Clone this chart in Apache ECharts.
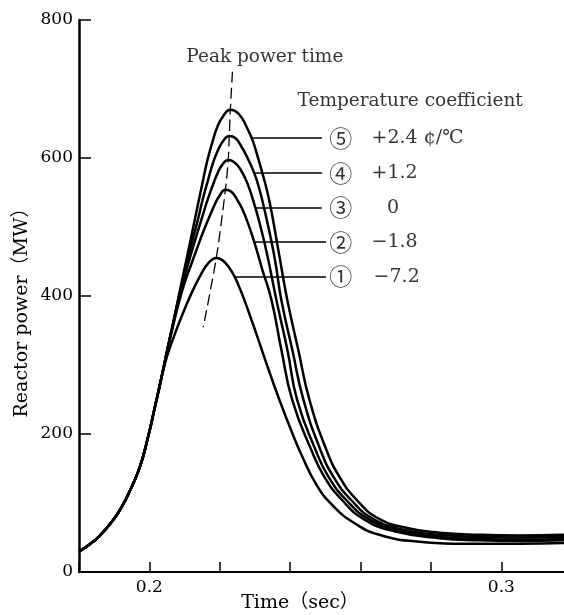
<!DOCTYPE html>
<html>
<head>
<meta charset="utf-8">
<script src="https://cdn.jsdelivr.net/npm/echarts@6/dist/echarts.min.js"></script>
<style>
html,body{margin:0;padding:0;background:#fff;}
#chart{width:564px;height:615px;}
</style>
</head>
<body>
<div id="chart"></div>
<script>
// ---- data (time in sec, power in MW) ----
const rise = [[0.1800,30],[0.1830,40],[0.1858,52],[0.1895,74],[0.1921,94],[0.1943,116],[0.1972,151],[0.1994,191],[0.2017,242],[0.2037,288]];
const curve1 = [[0.2051,314],[0.2068,339],[0.2085,362],[0.2105,387],[0.2125,410],[0.2142,427],[0.2159,442],[0.2176,452],[0.2190,455],[0.2207,452],[0.2224,443],[0.2242,428],[0.2256,412],[0.2270,394],[0.2304,345],[0.2332,303],[0.2369,250],[0.2403,205],[0.2432,170],[0.2474,127],[0.2520,97],[0.2582,71],[0.2653,54],[0.2767,44],[0.2909,41],[0.3051,41],[0.3178,42]];
const curve2 = [[0.2051,322],[0.2068,358],[0.2085,393],[0.2102,422],[0.2119,446],[0.2136,470],[0.2153,493],[0.2170,514],[0.2185,532],[0.2199,545],[0.2216,554],[0.2233,551],[0.2250,539],[0.2270,519],[0.2298,478],[0.2321,438],[0.2347,394],[0.2375,322],[0.2406,249],[0.2460,177],[0.2497,138],[0.2548,104],[0.2611,76],[0.2696,59],[0.2824,49],[0.2938,46],[0.3051,45],[0.3178,46]];
const curve3 = [[0.2051,322],[0.2068,361],[0.2085,399],[0.2102,432],[0.2119,462],[0.2136,491],[0.2151,516],[0.2165,539],[0.2179,559],[0.2193,577],[0.2207,590],[0.2224,597],[0.2241,594],[0.2258,584],[0.2278,564],[0.2301,528],[0.2318,496],[0.2335,459],[0.2361,394],[0.2392,322],[0.2420,249],[0.2472,177],[0.2509,138],[0.2560,104],[0.2625,76],[0.2710,60],[0.2824,51],[0.2938,48],[0.3051,47],[0.3178,48]];
const curve4 = [[0.2051,322],[0.2068,362],[0.2085,401],[0.2102,438],[0.2119,474],[0.2136,507],[0.2151,539],[0.2165,565],[0.2179,590],[0.2193,609],[0.2210,625],[0.2227,632],[0.2244,629],[0.2261,617],[0.2278,601],[0.2298,578],[0.2313,554],[0.2327,525],[0.2341,493],[0.2358,449],[0.2375,394],[0.2406,322],[0.2438,249],[0.2486,177],[0.2523,138],[0.2574,104],[0.2639,76],[0.2725,61],[0.2824,54],[0.2938,51],[0.3051,50],[0.3178,51]];
const curve5 = [[0.2051,322],[0.2068,362],[0.2085,404],[0.2102,445],[0.2119,486],[0.2136,528],[0.2151,564],[0.2165,597],[0.2179,623],[0.2193,645],[0.2210,661],[0.2230,670],[0.2247,667],[0.2264,657],[0.2278,643],[0.2293,626],[0.2307,603],[0.2321,578],[0.2335,551],[0.2347,522],[0.2369,459],[0.2392,394],[0.2423,322],[0.2455,249],[0.2503,177],[0.2540,138],[0.2588,105],[0.2653,77],[0.2739,63],[0.2824,57],[0.2938,54],[0.3051,53],[0.3178,54]];
const peakLine = [[0.2236,725],[0.2230,670],[0.2227,632],[0.2224,597],[0.2216,554],[0.2190,455],[0.2153,355]];
const circled = ['⑤','④','③','②','①'];
const coefText = ['+2.4 ¢/℃','+1.2','0','−1.8','−7.2'];
const leaderY = [629,578,528,478,428];
const leaderX0 = [0.2293,0.2298,0.2301,0.2298,0.2242];
const leaderX1 = [0.2490,0.2490,0.2490,0.2502,0.2502];
const circleX = 0.2544;
const coefX = [0.2631,0.2631,0.2675,0.2631,0.2637];
const yTicks = [0,200,400,600,800];
const xTickLabels = ['0.2','0.3'];

const serif = 'DejaVu Serif';
const chart = echarts.init(document.getElementById('chart'), null, {renderer:'canvas'});

function curveSeries(name, data){
  return {name, type:'line', data, showSymbol:false, smooth:0.5,
    lineStyle:{color:'#000', width:2.5}, z:3, silent:true};
}

const leaderMarks = leaderY.map((y,i)=>[{coord:[leaderX0[i],y]},{coord:[leaderX1[i],y]}]);

const labelData = [];
circled.forEach((c,i)=>{
  labelData.push({value:[circleX, leaderY[i]], label:{formatter:c, align:'center', fontSize:23, fontFamily:'Noto Sans CJK JP', color:'#000'}});
  labelData.push({value:[coefX[i], leaderY[i]], label:{formatter:coefText[i], align:'left', fontSize:19, fontFamily:serif, color:'#000'}});
});
labelData.push({value:[0.2328, 746], label:{formatter:'Peak power time', align:'center', fontSize:18.5, fontFamily:serif, color:'#000'}});
labelData.push({value:[0.2421, 683], label:{formatter:'Temperature coefficient', align:'left', fontSize:18.5, fontFamily:serif, color:'#000'}});

const option = {
  animation:false,
  backgroundColor:'#fff',
  grid:{left:79, right:0, top:20, bottom:43, containLabel:false},
  xAxis:{type:'value', min:0.18, max:0.3178, interval:0.02,
    axisLine:{show:true, lineStyle:{color:'#000', width:2}},
    axisTick:{show:true, inside:true, length:10, lineStyle:{color:'#000', width:1.5}},
    axisLabel:{color:'#000', fontSize:17, fontFamily:serif, margin:7, showMaxLabel:false,
      formatter:function(v){ if(Math.abs(v-0.2)<1e-6) return xTickLabels[0]; if(Math.abs(v-0.3)<1e-6) return xTickLabels[1]; return ''; }},
    splitLine:{show:false}},
  yAxis:{type:'value', min:0, max:800, interval:200,
    axisLine:{show:true, lineStyle:{color:'#000', width:2.5}},
    axisTick:{show:true, inside:true, length:12, lineStyle:{color:'#000', width:1.5}},
    axisLabel:{color:'#000', fontSize:17, fontFamily:serif, margin:6,
      formatter:function(v){ return yTicks.indexOf(v)>=0 ? String(v) : ''; }},
    splitLine:{show:false}},
  graphic:[
    {type:'text', x:300, y:603, style:{text:'Time（sec）', font:'19px "DejaVu Serif", "Noto Sans CJK JP"', fill:'#000', align:'center', verticalAlign:'middle'}},
    {type:'text', rotation:Math.PI/2, x:22, y:308, style:{text:'Reactor power（MW）', font:'19px "DejaVu Serif", "Noto Sans CJK JP"', fill:'#000', align:'center', verticalAlign:'middle'}}
  ],
  series:[
    curveSeries('c1', rise.concat(curve1)),
    curveSeries('c2', rise.concat(curve2)),
    curveSeries('c3', rise.concat(curve3)),
    curveSeries('c4', rise.concat(curve4)),
    curveSeries('c5', rise.concat(curve5)),
    {name:'peak', type:'line', data:peakLine, showSymbol:false, smooth:0.3,
      lineStyle:{color:'#000', width:1.3, type:[11,5]}, z:2, silent:true},
    {name:'leaders', type:'line', data:[], silent:true,
      markLine:{silent:true, symbol:['arrow','none'], symbolSize:[8,0], label:{show:false},
        lineStyle:{color:'#000', width:1.5, type:'solid'}, data:leaderMarks}},
    {name:'labels', type:'scatter', data:labelData, symbolSize:0, silent:true,
      label:{show:true, position:[0,0], verticalAlign:'middle', color:'#000'}}
  ]
};
chart.setOption(option);
</script>
</body>
</html>
